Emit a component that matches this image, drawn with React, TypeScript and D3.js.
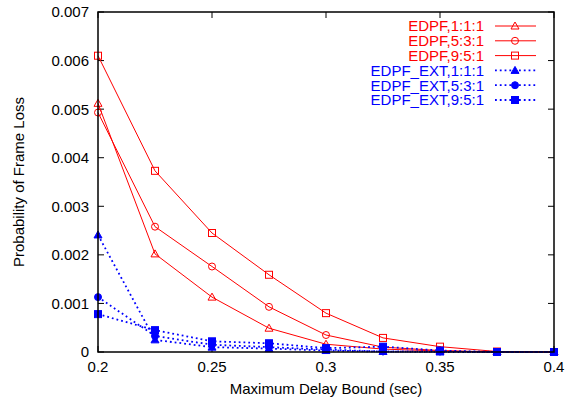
import React from "react";
import * as d3 from "d3";

const delays = [0.2, 0.225, 0.25, 0.275, 0.3, 0.325, 0.35, 0.375, 0.4];
const edpf111 = [0.00512, 0.00202, 0.00113, 0.00049, 0.00016, 0.00006, 0.00002, 0, 0];
const edpf531 = [0.00493, 0.00258, 0.00176, 0.00093, 0.00035, 0.0001, 0.00003, 0, 0];
const edpf951 = [0.0061, 0.00373, 0.00245, 0.00159, 0.0008, 0.00029, 0.00011, 0.00001, 0];
const ext111 = [0.00241, 0.00025, 0.0001, 0.00007, 0.00003, 0.00001, 0, 0, 0];
const ext531 = [0.00113, 0.00033, 0.00015, 0.0001, 0.00005, 0.00001, 0.00001, 0, 0];
const ext951 = [0.00078, 0.00045, 0.00022, 0.00018, 0.00008, 0.00011, 0.00003, 0, 0];
const xTicks = [0.2, 0.25, 0.3, 0.35, 0.4];
const yTicks = [0, 0.001, 0.002, 0.003, 0.004, 0.005, 0.006, 0.007];
const seriesNames = ["EDPF,1:1:1", "EDPF,5:3:1", "EDPF,9:5:1", "EDPF_EXT,1:1:1", "EDPF_EXT,5:3:1", "EDPF_EXT,9:5:1"];

type Series = { name: string; values: number[]; color: string; dotted: boolean; shape: string; filled: boolean };

const series: Series[] = [
  { name: seriesNames[0], values: edpf111, color: "#ff0000", dotted: false, shape: "triangle", filled: false },
  { name: seriesNames[1], values: edpf531, color: "#ff0000", dotted: false, shape: "circle", filled: false },
  { name: seriesNames[2], values: edpf951, color: "#ff0000", dotted: false, shape: "square", filled: false },
  { name: seriesNames[3], values: ext111, color: "#0000ff", dotted: true, shape: "triangle", filled: true },
  { name: seriesNames[4], values: ext531, color: "#0000ff", dotted: true, shape: "circle", filled: true },
  { name: seriesNames[5], values: ext951, color: "#0000ff", dotted: true, shape: "square", filled: true },
];

const L = 98, R = 554, T = 12, B = 352;
const FONT = "'Liberation Sans', Arial, Helvetica, sans-serif";
const FS = 15;

function Marker({ shape, x, y, color, filled }: { shape: string; x: number; y: number; color: string; filled: boolean }) {
  const fill = filled ? color : "none";
  const sw = 1;
  if (shape === "circle") return <circle cx={x} cy={y} r={3.5} fill={fill} stroke={color} strokeWidth={sw} />;
  if (shape === "square") {
    const s = 3.5;
    return <rect x={x - s} y={y - s} width={2 * s} height={2 * s} fill={fill} stroke={color} strokeWidth={sw} />;
  }
  const s = 4;
  return <path d={`M${x},${y - s}L${x + s},${y + s * 0.75}L${x - s},${y + s * 0.75}Z`} fill={fill} stroke={color} strokeWidth={sw} />;
}

export default function App() {
  const x = d3.scaleLinear().domain([0.2, 0.4]).range([L, R]);
  const y = d3.scaleLinear().domain([0, 0.007]).range([B, T]);
  const line = d3.line<number>().x((_, i) => x(delays[i])).y((v) => y(v));

  const legendTop = 26;
  const legendStep = 14.8;

  return (
    <svg width={568} height={400} style={{ position: "absolute", left: 0, top: 0, background: "#fff" }} fontFamily={FONT}>
      <rect x={0} y={0} width={568} height={400} fill="#fff" />
      {yTicks.map((t) => (
        <g key={"y" + t}>
          <line x1={L} x2={L + 6} y1={y(t)} y2={y(t)} stroke="#000" strokeWidth={1} />
          <line x1={R} x2={R - 6} y1={y(t)} y2={y(t)} stroke="#000" strokeWidth={1} />
          <text x={89} y={y(t)} dy="0.36em" textAnchor="end" fontSize={FS} fill="#000">
            {t === 0 ? "0" : d3.format(".3f")(t)}
          </text>
        </g>
      ))}
      {xTicks.map((t) => (
        <g key={"x" + t}>
          <line x1={x(t)} x2={x(t)} y1={B} y2={B - 6} stroke="#000" strokeWidth={1} />
          <line x1={x(t)} x2={x(t)} y1={T} y2={T + 6} stroke="#000" strokeWidth={1} />
          <text x={x(t)} y={372} textAnchor="middle" fontSize={FS} fill="#000">
            {String(t)}
          </text>
        </g>
      ))}
      <text x={326} y={394} textAnchor="middle" fontSize={FS} fill="#000">Maximum Delay Bound (sec)</text>
      <text transform={`translate(24,182) rotate(-90)`} textAnchor="middle" fontSize={FS} fill="#000">Probability of Frame Loss</text>

      {series.map((s) => (
        <g key={s.name}>
          <path d={line(s.values) || ""} fill="none" stroke={s.color} strokeWidth={s.dotted ? 1.8 : 1}
            strokeDasharray={s.dotted ? "1.8,3" : undefined} />
          {s.values.map((v, i) => (
            <Marker key={i} shape={s.shape} x={x(delays[i])} y={y(v)} color={s.color} filled={s.filled} />
          ))}
        </g>
      ))}

      {series.map((s, i) => {
        const ly = legendTop + i * legendStep;
        return (
          <g key={"lg" + s.name}>
            <text x={484} y={ly} dy="0.36em" textAnchor="end" fontSize={FS} fill={s.color}>{s.name}</text>
            <line x1={495} x2={536} y1={ly} y2={ly} stroke={s.color} strokeWidth={s.dotted ? 1.8 : 1}
              strokeDasharray={s.dotted ? "1.8,3" : undefined} />
            <Marker shape={s.shape} x={515} y={ly} color={s.color} filled={s.filled} />
          </g>
        );
      })}

      <rect x={L} y={T} width={R - L} height={B - T} fill="none" stroke="#000" strokeWidth={1.5} />
    </svg>
  );
}
